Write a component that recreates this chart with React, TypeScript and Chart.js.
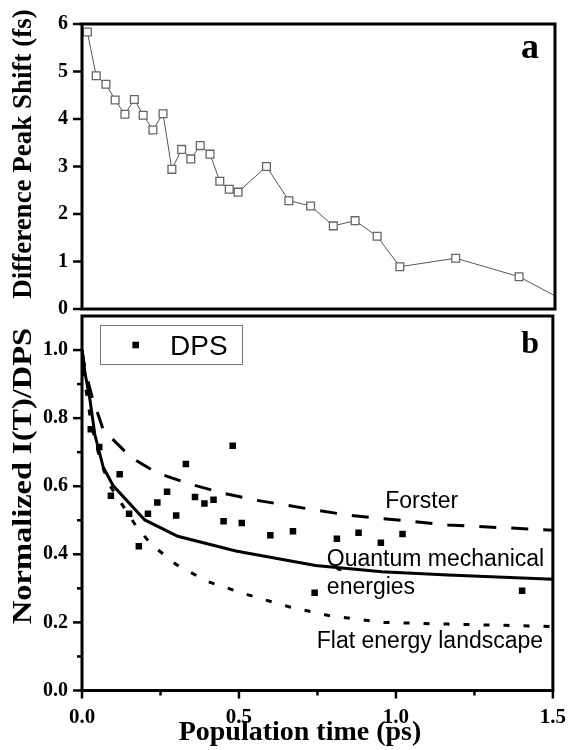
import React, { useEffect, useRef } from 'react';
import { Chart, registerables } from 'chart.js';

Chart.register(...registerables);

// ---------- data ----------
// Panel a: difference peak shift (fs) vs population time (ps)
const shiftTime = [0.017, 0.045, 0.076, 0.105, 0.136, 0.166, 0.194, 0.225, 0.257, 0.285, 0.316, 0.345, 0.375, 0.406, 0.437, 0.467, 0.495, 0.585, 0.656, 0.725, 0.797, 0.866, 0.936, 1.008, 1.185, 1.386, 1.55];
const shiftValue = [5.83, 4.91, 4.73, 4.40, 4.10, 4.41, 4.08, 3.77, 4.11, 2.94, 3.36, 3.16, 3.44, 3.26, 2.69, 2.52, 2.46, 3.00, 2.28, 2.17, 1.75, 1.86, 1.53, 0.89, 1.07, 0.68, 0.10];

// Panel b: normalized DPS points
const dpsTime = [0.028, 0.055, 0.092, 0.120, 0.150, 0.181, 0.210, 0.240, 0.271, 0.300, 0.331, 0.360, 0.390, 0.419, 0.451, 0.480, 0.509, 0.600, 0.672, 0.741, 0.812, 0.881, 0.952, 1.021, 1.402];
const dpsValue = [0.767, 0.715, 0.572, 0.635, 0.519, 0.424, 0.519, 0.552, 0.584, 0.514, 0.665, 0.568, 0.549, 0.560, 0.497, 0.719, 0.492, 0.456, 0.468, 0.287, 0.446, 0.463, 0.434, 0.460, 0.293];

// Panel b: model curves
const quantumTime = [0, 0.01, 0.025, 0.041, 0.068, 0.099, 0.2, 0.305, 0.49, 0.744, 0.955, 1.166, 1.5];
const quantumValue = [1.0, 0.93, 0.856, 0.751, 0.655, 0.602, 0.501, 0.453, 0.410, 0.367, 0.349, 0.339, 0.327];

const forsterTime = [0, 0.01, 0.031, 0.068, 0.157, 0.237, 0.342, 0.448, 0.554, 0.744, 0.849, 1.166, 1.5];
const forsterValue = [1.0, 0.94, 0.866, 0.765, 0.684, 0.640, 0.607, 0.580, 0.559, 0.530, 0.515, 0.486, 0.471];

const flatTime = [0, 0.01, 0.03, 0.06, 0.09, 0.126, 0.173, 0.221, 0.3, 0.4, 0.532, 0.659, 0.786, 0.955, 1.166, 1.5];
const flatValue = [1.0, 0.90, 0.78, 0.67, 0.60, 0.549, 0.482, 0.429, 0.37, 0.32, 0.280, 0.246, 0.220, 0.200, 0.195, 0.188];

// ticks
const xMajorTicks = [0, 0.5, 1.0, 1.5];
const xMinorTicks = [0.25, 0.75, 1.25];
const topYTicks = [0, 1, 2, 3, 4, 5, 6];
const bottomYMajorTicks = [0, 0.2, 0.4, 0.6, 0.8, 1.0];
const bottomYMinorTicks = [0.1, 0.3, 0.5, 0.7, 0.9];

const SERIF = "'Liberation Serif', 'Times New Roman', serif";
const SANS = "'Liberation Sans', Arial, sans-serif";

const toPts = (xs: number[], ys: number[]) => xs.map((x, i) => ({ x, y: ys[i] }));

// frame + tick marks
const makeFramePlugin = (opts: { xMajor: number[]; xMinor: number[]; yMajor: number[]; yMinor: number[]; drawX: boolean }) => ({
  id: 'frameTicks',
  afterDraw(chart: any) {
    const { ctx, chartArea: a, scales } = chart;
    ctx.save();
    ctx.strokeStyle = '#000';
    ctx.lineWidth = 3;
    ctx.strokeRect(a.left, a.top, a.right - a.left, a.bottom - a.top);
    ctx.lineWidth = 2.5;
    const yS = scales.y;
    const drawY = (vals: number[], len: number) => {
      vals.forEach((v) => {
        const py = yS.getPixelForValue(v);
        ctx.beginPath();
        ctx.moveTo(a.left - len, py);
        ctx.lineTo(a.left, py);
        ctx.stroke();
      });
    };
    drawY(opts.yMajor, 9);
    drawY(opts.yMinor, 5);
    if (opts.drawX) {
      const xS = scales.x;
      const drawXT = (vals: number[], len: number) => {
        vals.forEach((v) => {
          const px = xS.getPixelForValue(v);
          ctx.beginPath();
          ctx.moveTo(px, a.bottom);
          ctx.lineTo(px, a.bottom + len);
          ctx.stroke();
        });
      };
      drawXT(opts.xMajor, 8);
      drawXT(opts.xMinor, 5);
    }
    ctx.restore();
  },
});

export default function App() {
  const topRef = useRef<HTMLCanvasElement>(null);
  const botRef = useRef<HTMLCanvasElement>(null);

  useEffect(() => {
    const tickFont = { family: SERIF, size: 20, weight: 'bold' as const };

    const topAnnot = {
      id: 'topAnnot',
      afterDraw(chart: any) {
        const { ctx } = chart;
        ctx.save();
        ctx.fillStyle = '#000';
        ctx.font = `bold 36px ${SERIF}`;
        ctx.textAlign = 'right';
        ctx.textBaseline = 'alphabetic';
        ctx.fillText('a', 539, 58);
        ctx.font = `bold 27px ${SERIF}`;
        ctx.translate(24, 154);
        ctx.rotate(-Math.PI / 2);
        ctx.textAlign = 'center';
        ctx.textBaseline = 'middle';
        ctx.fillText('Difference Peak Shift (fs)', 0, 0);
        ctx.restore();
      },
    };

    const top = new Chart(topRef.current!, {
      type: 'line',
      data: {
        datasets: [
          {
            data: toPts(shiftTime, shiftValue),
            borderColor: '#555',
            borderWidth: 1,
            pointStyle: 'rect',
            pointRadius: shiftTime.map((_, i) => (i === shiftTime.length - 1 ? 0 : 5.5)),
            pointBorderColor: '#666',
            pointBackgroundColor: '#fff',
            pointBorderWidth: 1.3,
            tension: 0,
          },
        ],
      },
      options: {
        animation: false,
        responsive: false,
        devicePixelRatio: 1,
        layout: { padding: { top: 24, right: 15, bottom: 21, left: 0 } },
        plugins: { legend: { display: false }, tooltip: { enabled: false } },
        scales: {
          x: { type: 'linear', min: 0, max: 1.5, display: false },
          y: {
            type: 'linear',
            min: 0,
            max: 6,
            afterBuildTicks: (s: any) => { s.ticks = topYTicks.map((v) => ({ value: v })); },
            afterFit: (s: any) => { s.width = 82; },
            ticks: { font: tickFont, color: '#000', padding: 4, callback: (v: any) => String(v) },
            grid: { display: false, drawTicks: true, tickLength: 10 },
            border: { display: false },
          },
        },
      },
      plugins: [makeFramePlugin({ xMajor: [], xMinor: [], yMajor: topYTicks, yMinor: [], drawX: false }), topAnnot],
    } as any);

    const botAnnot = {
      id: 'botAnnot',
      afterDraw(chart: any) {
        const { ctx, scales } = chart;
        const xs = scales.x;
        const ys = scales.y;
        ctx.save();
        ctx.fillStyle = '#000';
        // panel label
        ctx.font = `bold 32px ${SERIF}`;
        ctx.textAlign = 'right';
        ctx.textBaseline = 'alphabetic';
        ctx.fillText('b', 539, 53);
        // curve annotations
        ctx.font = `23px ${SANS}`;
        ctx.textAlign = 'left';
        ctx.fillText('Forster', xs.getPixelForValue(0.966), ys.getPixelForValue(0.535));
        ctx.fillText('Quantum mechanical', xs.getPixelForValue(0.78), ys.getPixelForValue(0.367));
        ctx.fillText('energies', xs.getPixelForValue(0.78), ys.getPixelForValue(0.284));
        ctx.fillText('Flat energy landscape', xs.getPixelForValue(0.748), ys.getPixelForValue(0.126));
        // legend
        ctx.strokeStyle = '#777';
        ctx.lineWidth = 1;
        ctx.strokeRect(100.5, 25.5, 142, 39);
        ctx.fillRect(135.7 - 3.3, 45 - 3.3, 6.6, 6.6);
        ctx.font = `28px ${SANS}`;
        ctx.fillText('DPS', 170, 55);
        // axis titles
        ctx.font = `bold 28px ${SERIF}`;
        ctx.textAlign = 'center';
        ctx.textBaseline = 'middle';
        ctx.fillText('Population time (ps)', 300, 433);
        ctx.font = `bold 27px ${SERIF}`;
        ctx.translate(24, 176);
        ctx.rotate(-Math.PI / 2);
        ctx.scale(1.2, 1);
        ctx.fillText('Normalized I(T)/DPS', 0, 0);
        ctx.restore();
      },
    };

    const bot = new Chart(botRef.current!, {
      type: 'line',
      data: {
        datasets: [
          {
            type: 'scatter',
            data: toPts(dpsTime, dpsValue),
            pointStyle: 'rect',
            pointRadius: 4.6,
            pointBackgroundColor: '#000',
            pointBorderColor: '#000',
            pointBorderWidth: 0,
            showLine: false,
          },
          {
            data: toPts(quantumTime, quantumValue),
            borderColor: '#000',
            borderWidth: 3,
            pointRadius: 0,
            tension: 0,
          },
          {
            data: toPts(forsterTime, forsterValue),
            borderColor: '#000',
            borderWidth: 3,
            borderDash: [17, 15],
            pointRadius: 0,
            tension: 0,
          },
          {
            data: toPts(flatTime, flatValue),
            borderColor: '#000',
            borderWidth: 3,
            borderDash: [6, 14],
            pointRadius: 0,
            tension: 0,
          },
        ],
      },
      options: {
        animation: false,
        responsive: false,
        devicePixelRatio: 1,
        layout: { padding: { top: 9, right: 15, bottom: 0, left: 0 } },
        plugins: { legend: { display: false }, tooltip: { enabled: false } },
        scales: {
          x: {
            type: 'linear',
            min: 0,
            max: 1.5,
            afterBuildTicks: (s: any) => { s.ticks = xMajorTicks.map((v) => ({ value: v })); },
            afterFit: (s: any) => { s.height = 59.5; },
            ticks: { font: { family: SERIF, size: 21, weight: 'bold' }, color: '#000', padding: 4, maxRotation: 0, callback: (v: any) => Number(v).toFixed(1) },
            grid: { display: false, drawTicks: true, tickLength: 10 },
            border: { display: false },
          },
          y: {
            type: 'linear',
            min: 0,
            max: 1.1,
            afterBuildTicks: (s: any) => { s.ticks = bottomYMajorTicks.map((v) => ({ value: v })); },
            afterFit: (s: any) => { s.width = 82; },
            ticks: { font: tickFont, color: '#000', padding: 4, callback: (v: any) => Number(v).toFixed(1) },
            grid: { display: false, drawTicks: true, tickLength: 10 },
            border: { display: false },
          },
        },
      },
      plugins: [makeFramePlugin({ xMajor: xMajorTicks, xMinor: xMinorTicks, yMajor: bottomYMajorTicks, yMinor: bottomYMinorTicks, drawX: true }), botAnnot],
    } as any);

    return () => {
      top.destroy();
      bot.destroy();
    };
  }, []);

  return (
    <div style={{ position: 'absolute', left: 0, top: 0, width: 570, height: 750, background: '#fff' }}>
      <canvas ref={botRef} width={570} height={450} style={{ position: 'absolute', left: 0, top: 300, width: 570, height: 450 }} />
      <canvas ref={topRef} width={570} height={330} style={{ position: 'absolute', left: 0, top: 0, width: 570, height: 330 }} />
    </div>
  );
}
